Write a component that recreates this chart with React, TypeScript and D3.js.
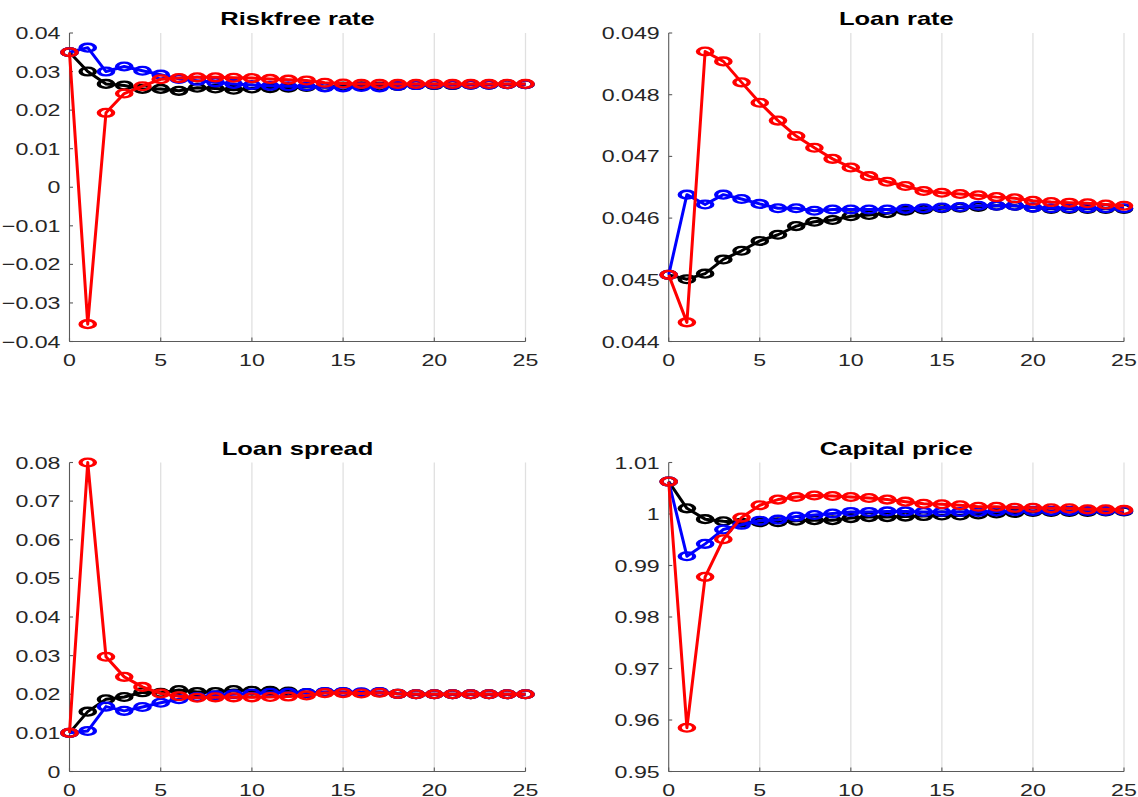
import React from "react";
import * as d3 from "d3";

const periods = d3.range(0, 26);
const xTicks = [0, 5, 10, 15, 20, 25];

const titles = ["Riskfree rate", "Loan rate", "Loan spread", "Capital price"];

const riskBlack = [0.035,0.030,0.0268,0.0264,0.0255,0.0255,0.0250,0.0258,0.0256,0.0253,0.0256,0.0257,0.0258,0.0260,0.0260,0.0261,0.0262,0.0261,0.0263,0.0265,0.0265,0.0265,0.0266,0.0266,0.0267,0.0267];
const riskBlue = [0.035,0.0362,0.030,0.0313,0.0302,0.0292,0.0281,0.0276,0.0272,0.0268,0.0265,0.0263,0.0262,0.0262,0.0259,0.0259,0.0260,0.0259,0.0263,0.0265,0.0266,0.0266,0.0266,0.0266,0.0267,0.0267];
const riskRed = [0.035,-0.0355,0.0193,0.0243,0.0262,0.0280,0.0283,0.0285,0.0285,0.0284,0.0283,0.0281,0.0279,0.0277,0.0271,0.0269,0.0268,0.0268,0.0268,0.0268,0.0268,0.0268,0.0268,0.0268,0.0268,0.0268];
const riskTicks = [-0.04,-0.03,-0.02,-0.01,0,0.01,0.02,0.03,0.04];

const loanBlack = [0.04508,0.04501,0.0451,0.04533,0.04547,0.04563,0.04573,0.04587,0.04594,0.04597,0.04603,0.04605,0.04608,0.04612,0.04614,0.04616,0.04617,0.04618,0.0462,0.0462,0.04617,0.04615,0.04615,0.04615,0.04615,0.04615];
const loanBlue = [0.04508,0.04638,0.04622,0.04638,0.04631,0.04623,0.04616,0.04616,0.04612,0.04614,0.04614,0.04614,0.04614,0.04615,0.04616,0.04617,0.04618,0.0462,0.0462,0.0462,0.04617,0.04616,0.04616,0.04616,0.04616,0.04616];
const loanRed = [0.04508,0.04431,0.0487,0.04854,0.0482,0.04787,0.04758,0.04733,0.04714,0.04696,0.04682,0.04668,0.04659,0.04652,0.04644,0.04641,0.04639,0.04637,0.04634,0.04632,0.04628,0.04626,0.04625,0.04624,0.04622,0.0462];
const loanTicks = [0.044,0.045,0.046,0.047,0.048,0.049];

const spreadBlack = [0.01,0.0155,0.0187,0.0193,0.0205,0.0204,0.0211,0.0206,0.0206,0.0211,0.0209,0.0209,0.0207,0.0203,0.0205,0.0205,0.0204,0.0205,0.0201,0.02,0.02,0.02,0.02,0.02,0.02,0.02];
const spreadBlue = [0.01,0.0105,0.0168,0.0157,0.0167,0.0178,0.0187,0.0193,0.0197,0.02,0.0202,0.0204,0.0204,0.0203,0.0206,0.0206,0.0205,0.0206,0.0201,0.02,0.02,0.02,0.02,0.02,0.02,0.02];
const spreadRed = [0.01,0.08,0.0297,0.0245,0.0219,0.0202,0.0195,0.0191,0.0192,0.0192,0.0192,0.0193,0.0194,0.0197,0.0203,0.0203,0.0202,0.0204,0.0201,0.02,0.02,0.02,0.02,0.02,0.02,0.02];
const spreadTicks = [0,0.01,0.02,0.03,0.04,0.05,0.06,0.07,0.08];

const capBlack = [1.0063,1.0011,0.9990,0.9986,0.9983,0.9984,0.9984,0.9987,0.9988,0.9988,0.9992,0.9994,0.9994,0.9995,0.9996,0.9997,0.9997,0.9999,1.0001,1.0002,1.0004,1.0004,1.0004,1.0004,1.0005,1.0005];
const capBlue = [1.0063,0.9918,0.9942,0.9970,0.9979,0.9987,0.9989,0.9995,0.9998,1.0001,1.0004,1.0004,1.0005,1.0005,1.0004,1.0004,1.0004,1.0004,1.0005,1.0006,1.0006,1.0006,1.0006,1.0006,1.0006,1.0006];
const capRed = [1.0063,0.9585,0.9878,0.9951,0.9993,1.0017,1.0028,1.0033,1.0036,1.0035,1.0033,1.0031,1.0028,1.0024,1.002,1.0019,1.0017,1.0014,1.0014,1.0012,1.0012,1.0011,1.0011,1.0009,1.0009,1.0008];
const capTicks = [0.95,0.96,0.97,0.98,0.99,1,1.01];

const seriesColors = ["#000000", "#0000ff", "#ff0000"];

const panels = [
  { title: titles[0], series: [riskBlack, riskBlue, riskRed], ticks: riskTicks, domain: [-0.04, 0.04] },
  { title: titles[1], series: [loanBlack, loanBlue, loanRed], ticks: loanTicks, domain: [0.044, 0.049] },
  { title: titles[2], series: [spreadBlack, spreadBlue, spreadRed], ticks: spreadTicks, domain: [0, 0.08] },
  { title: titles[3], series: [capBlack, capBlue, capRed], ticks: capTicks, domain: [0.95, 1.01] },
];

const SX = 1.38;
const FONT = "'Liberation Sans', Arial, Helvetica, sans-serif";
const layout = [
  { x0: 69.5, x1: 525.5, y0: 33, y1: 341.5 },
  { x0: 668.7, x1: 1124, y0: 33, y1: 341.5 },
  { x0: 69.5, x1: 525.5, y0: 462.5, y1: 771.5 },
  { x0: 668.7, x1: 1124, y0: 462.5, y1: 771.5 },
];

function fmt(v: number) {
  const s = d3.format(".3~f")(v);
  return s === "-0" ? "0" : s;
}

function Panel({ p, box }: { p: any; box: any }) {
  const x = d3.scaleLinear().domain([0, 25]).range([box.x0, box.x1]);
  const y = d3.scaleLinear().domain(p.domain).range([box.y1, box.y0]);
  const line = d3.line<number>().x((_, i) => x(periods[i])).y((d) => y(d));
  const axisColor = "#5a5a5a";
  return (
    <g>
      {xTicks.filter((t) => t > 0).map((t) => (
        <line key={"g" + t} x1={x(t)} x2={x(t)} y1={box.y0} y2={box.y1} stroke="#e0e0e0" strokeWidth={1.3} />
      ))}
      <line x1={box.x0} x2={box.x0} y1={box.y0} y2={box.y1} stroke={axisColor} strokeWidth={1.1} />
      <line x1={box.x0} x2={box.x1} y1={box.y1} y2={box.y1} stroke={axisColor} strokeWidth={1.1} />
      {p.ticks.map((t: number) => (
        <g key={"yt" + t}>
          <line x1={box.x0} x2={box.x0 + 3.5} y1={y(t)} y2={y(t)} stroke={axisColor} strokeWidth={1.1} />
          <text
            transform={`translate(${box.x0 - 9},${y(t) + 6}) scale(${SX},1)`}
            textAnchor="end"
            fontFamily={FONT}
            fontSize={16.8}
            fill="#262626"
          >
            {fmt(t)}
          </text>
        </g>
      ))}
      {xTicks.map((t) => (
        <g key={"xt" + t}>
          <line x1={x(t)} x2={x(t)} y1={box.y1} y2={box.y1 - 4} stroke={axisColor} strokeWidth={1.1} />
          <text
            transform={`translate(${x(t)},${box.y1 + 24}) scale(${SX},1)`}
            textAnchor="middle"
            fontFamily={FONT}
            fontSize={16.8}
            fill="#262626"
          >
            {t}
          </text>
        </g>
      ))}
      <text
        transform={`translate(${(box.x0 + box.x1) / 2},${box.y0 - 8}) scale(${SX},1)`}
        textAnchor="middle"
        fontFamily={FONT}
        fontWeight="bold"
        fontSize={18.5}
        fill="#000"
      >
        {p.title}
      </text>
      {p.series.map((s: number[], si: number) => (
        <g key={"s" + si}>
          <path d={line(s) || ""} fill="none" stroke={seriesColors[si]} strokeWidth={3} strokeLinejoin="round" />
          {s.map((v, i) => (
            <circle
              key={i}
              r={3.9}
              transform={`translate(${x(periods[i])},${y(v)}) scale(1.85,1)`}
              fill="none"
              stroke={seriesColors[si]}
              strokeWidth={2.3}
            />
          ))}
        </g>
      ))}
    </g>
  );
}

export default function App() {
  return (
    <svg
      width={1138}
      height={797}
      style={{ position: "absolute", left: 0, top: 0, background: "#fff" }}
    >
      <rect x={0} y={0} width={1138} height={797} fill="#fff" />
      {panels.map((p, i) => (
        <Panel key={i} p={p} box={layout[i]} />
      ))}
    </svg>
  );
}
